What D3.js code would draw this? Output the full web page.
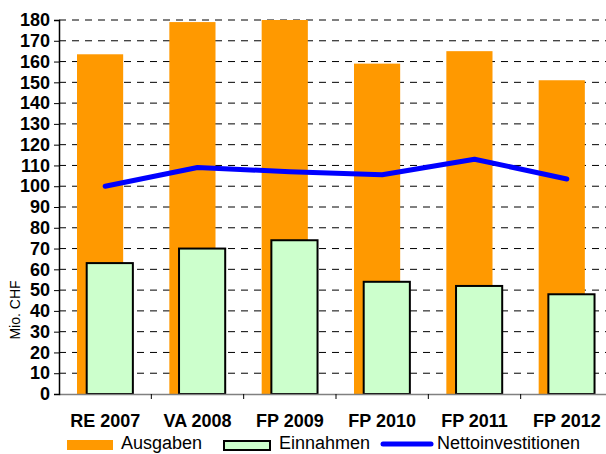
<!DOCTYPE html>
<html>
<head>
<meta charset="utf-8">
<script src="https://cdn.jsdelivr.net/npm/d3@7"></script>
<style>
    body { margin: 0; background: #fff; }
    svg { display: block; font-family: "Liberation Sans", Arial, sans-serif; }
</style>
</head>
<body>
<svg class="chart"></svg>
<script>
var categories = ["RE 2007", "VA 2008", "FP 2009", "FP 2010", "FP 2011", "FP 2012"];
var ausgaben = [163.5, 179, 180, 159, 165, 151];
var einnahmen = [63, 70, 74, 54, 52, 48];
var netto = [100, 109, 107, 105.5, 113, 103.5];
var yTicks = d3.range(0, 181, 10);
var legendNames = ["Ausgaben", "Einnahmen", "Nettoinvestitionen"];

var outerSize = {width: 606, height: 454};
var plot = {left: 59, right: 613, top: 20, bottom: 394};

var chart = d3.select(".chart")
        .attr("width", outerSize.width)
        .attr("height", outerSize.height);

var xRange = d3.scaleBand()
        .domain(categories)
        .range([plot.left, plot.right]);
var yRange = d3.scaleLinear()
        .domain([0, 180])
        .range([plot.bottom, plot.top]);

// dashed gridlines
chart.append("g")
        .selectAll("line")
        .data(yTicks.filter(function (t) { return t > 0; }))
        .enter().append("line")
        .attr("x1", plot.left)
        .attr("x2", outerSize.width)
        .attr("y1", function (t) { return yRange(t); })
        .attr("y2", function (t) { return yRange(t); })
        .attr("stroke", "#000")
        .attr("stroke-width", 1)
        .attr("stroke-dasharray", "7,6");

var bw = xRange.bandwidth();
var barWidth = bw * 0.5;

// Ausgaben bars
chart.append("g")
        .selectAll("rect")
        .data(ausgaben)
        .enter().append("rect")
        .attr("x", function (d, i) { return xRange(categories[i]) + bw * 0.195; })
        .attr("width", barWidth)
        .attr("y", function (d) { return yRange(d); })
        .attr("height", function (d) { return plot.bottom - yRange(d); })
        .attr("fill", "#FF9900");

// Einnahmen bars
chart.append("g")
        .selectAll("rect")
        .data(einnahmen)
        .enter().append("rect")
        .attr("x", function (d, i) { return xRange(categories[i]) + bw * 0.3; })
        .attr("width", barWidth)
        .attr("y", function (d) { return yRange(d); })
        .attr("height", function (d) { return plot.bottom - yRange(d); })
        .attr("fill", "#CCFFCC")
        .attr("stroke", "#000")
        .attr("stroke-width", 2);

// x axis
var xAxis = chart.append("g")
        .attr("transform", "translate(0," + plot.bottom + ")")
        .call(d3.axisBottom(xRange).tickSize(0).tickPadding(20));
xAxis.select(".domain").attr("stroke", "#808080").attr("stroke-width", 1.5);
xAxis.selectAll("text")
        .attr("font-size", 18)
        .attr("font-weight", "bold")
        .attr("fill", "#000")
        .attr("font-family", "Liberation Sans, Arial, sans-serif");
chart.append("g")
        .selectAll("line")
        .data(d3.range(1, categories.length + 1))
        .enter().append("line")
        .attr("x1", function (i) { return plot.left + bw * i; })
        .attr("x2", function (i) { return plot.left + bw * i; })
        .attr("y1", plot.bottom)
        .attr("y2", plot.bottom + 5)
        .attr("stroke", "#000");

// y axis
var yAxis = chart.append("g")
        .attr("transform", "translate(" + plot.left + ",0)")
        .call(d3.axisLeft(yRange).tickValues(yTicks).tickSize(5).tickPadding(4));
yAxis.select(".domain").attr("stroke", "#000").attr("stroke-width", 1.5);
yAxis.selectAll(".tick line").attr("stroke", "#000");
yAxis.selectAll("text")
        .attr("font-size", 18)
        .attr("font-weight", "bold")
        .attr("fill", "#000")
        .attr("font-family", "Liberation Sans, Arial, sans-serif");

chart.append("text")
        .attr("transform", "translate(20,310) rotate(-90)")
        .attr("text-anchor", "middle")
        .attr("font-size", 14)
        .text("Mio. CHF");

// Nettoinvestitionen line
var line = d3.line()
        .x(function (d, i) { return xRange(categories[i]) + bw / 2; })
        .y(function (d) { return yRange(d); });
chart.append("path")
        .datum(netto)
        .attr("d", line)
        .attr("fill", "none")
        .attr("stroke", "#0000FF")
        .attr("stroke-width", 5)
        .attr("stroke-linecap", "round")
        .attr("stroke-linejoin", "round");

// legend
var legend = chart.append("g");
legend.append("rect")
        .attr("x", 67).attr("y", 440).attr("width", 46).attr("height", 10)
        .attr("fill", "#FF9900");
legend.append("text")
        .attr("x", 121).attr("y", 449).attr("font-size", 18).text(legendNames[0]);
legend.append("rect")
        .attr("x", 224).attr("y", 441).attr("width", 46).attr("height", 9)
        .attr("fill", "#CCFFCC").attr("stroke", "#000").attr("stroke-width", 2);
legend.append("text")
        .attr("x", 279).attr("y", 449).attr("font-size", 18).text(legendNames[1]);
legend.append("line")
        .attr("x1", 383).attr("x2", 431).attr("y1", 444).attr("y2", 444)
        .attr("stroke", "#0000FF").attr("stroke-width", 5).attr("stroke-linecap", "round");
legend.append("text")
        .attr("x", 437).attr("y", 449).attr("font-size", 18).text(legendNames[2]);
</script>
</body>
</html>
